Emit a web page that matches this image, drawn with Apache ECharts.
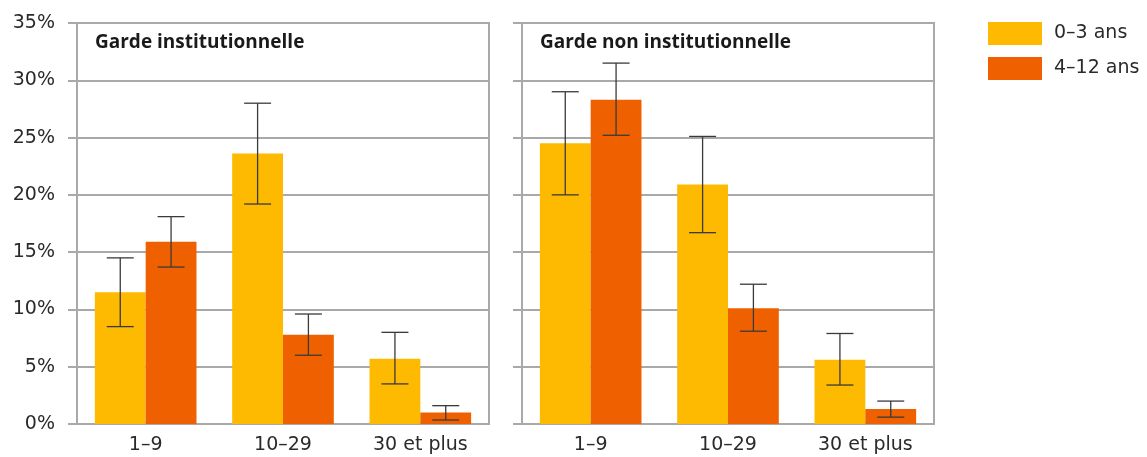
<!DOCTYPE html>
<html>
<head>
<meta charset="utf-8">
<script src="https://cdn.jsdelivr.net/npm/echarts@6/dist/echarts.min.js"></script>
<style>
html,body{margin:0;padding:0;background:#fff;}
#c{width:1147px;height:457px;}
</style>
</head>
<body>
<div id="c"></div>
<script>
// ---- data ----
var categories = ['1–9', '10–29', '30 et plus'];
var seriesNames = ['0–3 ans', '4–12 ans'];
var panelTitles = ['Garde institutionnelle', 'Garde non institutionnelle'];
// Garde institutionnelle
var inst03 = [11.5, 23.6, 5.7];
var inst03Low = [8.5, 19.2, 3.5];
var inst03High = [14.5, 28.0, 8.0];
var inst412 = [15.9, 7.8, 1.0];
var inst412Low = [13.7, 6.0, 0.35];
var inst412High = [18.1, 9.6, 1.6];
// Garde non institutionnelle
var non03 = [24.5, 20.9, 5.6];
var non03Low = [20.0, 16.7, 3.4];
var non03High = [29.0, 25.1, 7.9];
var non412 = [28.3, 10.1, 1.3];
var non412Low = [25.2, 8.1, 0.6];
var non412High = [31.5, 12.2, 2.0];
var yTicks = [0, 5, 10, 15, 20, 25, 30, 35];

var colors = ['#FDBA00', '#EF6100'];
var FONT = 'DejaVu Sans';
var TFONT = 'Open Sans';
var CAT_GAP = 0.26;

function errData(low, high, sIdx) {
  return categories.map(function (c, i) { return [i, low[i], high[i], sIdx]; });
}

function renderErr(params, api) {
  var cat = api.value(0), lo = api.value(1), hi = api.value(2), s = api.value(3);
  var band = api.size([1, 0])[0];
  var bw = band * (1 - CAT_GAP) / 2;
  var off = (s === 0 ? -bw / 2 : bw / 2);
  var pLo = api.coord([cat, lo]);
  var pHi = api.coord([cat, hi]);
  var x = pLo[0] + off;
  var cap = 13.5;
  var st = { stroke: '#3a3a3a', lineWidth: 1.3 };
  return {
    type: 'group',
    children: [
      { type: 'line', shape: { x1: x, y1: pLo[1], x2: x, y2: pHi[1] }, style: st },
      { type: 'line', shape: { x1: x - cap, y1: pLo[1], x2: x + cap, y2: pLo[1] }, style: st },
      { type: 'line', shape: { x1: x - cap, y1: pHi[1], x2: x + cap, y2: pHi[1] }, style: st }
    ]
  };
}

var gridLeft = [77, 522];
var grids = gridLeft.map(function (l) {
  return { left: l, top: 23, width: 412, height: 401, show: true, borderColor: '#a9a9a9', borderWidth: 2, containLabel: false };
});

var xAxes = [0, 1].map(function (g) {
  return {
    type: 'category', gridIndex: g, data: categories,
    axisLine: { show: false },
    axisTick: { show: false },
    axisLabel: { fontFamily: FONT, fontSize: 19, color: '#2a2a2a', margin: 12 }
  };
});

var yAxes = [0, 1].map(function (g) {
  return {
    type: 'value', gridIndex: g, min: yTicks[0], max: yTicks[yTicks.length - 1], interval: 5,
    axisLine: { show: true, lineStyle: { color: '#a9a9a9', width: 2 } },
    axisTick: { show: true, length: 9, lineStyle: { color: '#a9a9a9', width: 2 } },
    splitLine: { show: true, lineStyle: { color: '#a9a9a9', width: 2 } },
    axisLabel: {
      show: g === 0, fontFamily: FONT, fontSize: 19, color: '#2a2a2a', margin: 22,
      formatter: function (v) { return v + '%'; }
    }
  };
});

function bar(name, data, g, c) {
  return {
    name: name, type: 'bar', xAxisIndex: g, yAxisIndex: g, data: data,
    barGap: '0%', barCategoryGap: (CAT_GAP * 100) + '%',
    itemStyle: { color: c }, emphasis: { disabled: true }, z: 2
  };
}
function err(data, g) {
  return {
    type: 'custom', xAxisIndex: g, yAxisIndex: g, data: data, renderItem: renderErr, z: 5, silent: true
  };
}

var option = {
  animation: false,
  color: colors,
  textStyle: { fontFamily: FONT },
  title: [
    { text: panelTitles[0], left: 95, top: 33, padding: 0, textStyle: { fontFamily: TFONT, fontSize: 19, fontWeight: 'bold', color: '#1a1a1a' } },
    { text: panelTitles[1], left: 540, top: 33, padding: 0, textStyle: { fontFamily: TFONT, fontSize: 19, fontWeight: 'bold', color: '#1a1a1a' } }
  ],
  legend: {
    data: seriesNames, orient: 'vertical', left: 988, top: 22, padding: 0,
    itemWidth: 54, itemHeight: 23, itemGap: 12, icon: 'rect',
    textStyle: { fontFamily: FONT, fontSize: 19, color: '#2a2a2a', padding: [0, 0, 0, 7] },
    selectedMode: false
  },
  grid: grids,
  xAxis: xAxes,
  yAxis: yAxes,
  series: [
    bar(seriesNames[0], inst03, 0, colors[0]),
    bar(seriesNames[1], inst412, 0, colors[1]),
    bar(seriesNames[0], non03, 1, colors[0]),
    bar(seriesNames[1], non412, 1, colors[1]),
    err(errData(inst03Low, inst03High, 0), 0),
    err(errData(inst412Low, inst412High, 1), 0),
    err(errData(non03Low, non03High, 0), 1),
    err(errData(non412Low, non412High, 1), 1)
  ]
};

var chart = echarts.init(document.getElementById('c'), null, { renderer: 'canvas' });
chart.setOption(option);
</script>
</body>
</html>
